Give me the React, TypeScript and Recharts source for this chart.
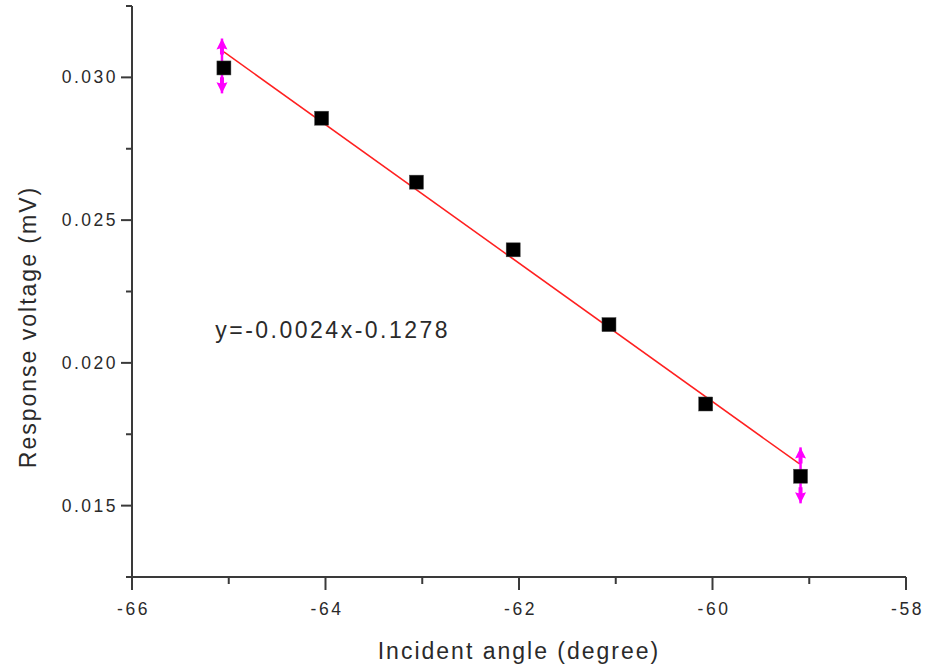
import React from 'react';
import {
  ScatterChart,
  Scatter,
  XAxis,
  YAxis,
  ErrorBar,
  ReferenceDot,
  Label,
} from 'recharts';

const angles = [-65.05, -64.04, -63.06, -62.06, -61.07, -60.07, -59.09];
const voltages = [0.03033, 0.02857, 0.02633, 0.02396, 0.02134, 0.01856, 0.01603];

// error bars on first and last point
const errAngles = [-65.07, -59.09];
const errCenters = [0.0304, 0.01606];
const errSizes = [0.00096, 0.00098];

// linear fit end points
const fitAngles = [-65.05, -59.1];
const fitVoltages = [0.03089, 0.01646];

const xTicks = [-66, -65, -64, -63, -62, -61, -60, -59, -58];
const yTicks = [0.0125, 0.015, 0.0175, 0.02, 0.0225, 0.025, 0.0275, 0.03, 0.0325];

const FONT = '"Liberation Sans", Arial, sans-serif';
const AXIS = '#3a3a3a';
const TEXT = '#2a2a2a';

const points = angles.map((x, i) => ({ x, y: voltages[i] }));
const errData = errAngles.map((x, i) => ({ x, y: errCenters[i], err: errSizes[i] }));
const arrowData = errAngles.flatMap((x, i) => [
  { x, y: errCenters[i] + errSizes[i], dir: 'up' },
  { x, y: errCenters[i] - errSizes[i], dir: 'down' },
]);
const fitData = fitAngles.map((x, i) => ({ x, y: fitVoltages[i] }));

const XTick = ({ x, y, payload }: any) => {
  const major = Math.abs(payload.value) % 2 === 0;
  return (
    <g>
      <line x1={x} y1={y} x2={x} y2={y + (major ? 13 : 7)} stroke={AXIS} strokeWidth={2} />
      {major && (
        <text x={x + 1.5} y={y + 38} textAnchor="middle" fontSize={17.5} letterSpacing={2.5} fill={TEXT} fontFamily={FONT}>
          {payload.value}
        </text>
      )}
    </g>
  );
};

const YTick = ({ x, y, payload }: any) => {
  const v = payload.value * 200;
  const major = Math.abs(v - Math.round(v)) < 1e-6;
  return (
    <g>
      <line x1={x} y1={y} x2={x - (major ? 11 : 6)} y2={y} stroke={AXIS} strokeWidth={2} />
      {major && (
        <text x={x - 14} y={y + 6} textAnchor="end" fontSize={17.5} letterSpacing={2.5} fill={TEXT} fontFamily={FONT}>
          {payload.value.toFixed(3)}
        </text>
      )}
    </g>
  );
};

const Square = ({ cx, cy }: any) => (
  <rect x={cx - 7} y={cy - 7} width={14} height={14} fill="#000" stroke="#444" strokeWidth={0.5} />
);

const Arrow = ({ cx, cy, payload }: any) => {
  const s = payload.dir === 'up' ? 1 : -1;
  return (
    <polygon
      points={`${cx},${cy} ${cx + 5.5},${cy + s * 11} ${cx + 2},${cy + s * 10} ${cx + 2},${cy + s * 16} ${cx - 2},${cy + s * 16} ${cx - 2},${cy + s * 10} ${cx - 5.5},${cy + s * 11}`}
      fill="#ff00ff"
    />
  );
};

export default function App() {
  return (
    <div style={{ position: 'absolute', left: 0, top: 0, background: '#fff' }}>
      <ScatterChart width={925} height={672} margin={{ top: 6, right: 19, bottom: 0, left: 0 }}>
        <XAxis
          type="number"
          dataKey="x"
          domain={[-66, -58]}
          ticks={xTicks}
          allowDataOverflow
          height={95}
          tickSize={0}
          tickMargin={0}
          tickLine={false}
          axisLine={{ stroke: AXIS, strokeWidth: 2 }}
          tick={<XTick />}
          interval={0}
        >
          <Label
            content={() => (
              <text x={519} y={659} textAnchor="middle" fontSize={23} letterSpacing={2} fill={TEXT} fontFamily={FONT}>
                Incident angle (degree)
              </text>
            )}
          />
        </XAxis>
        <XAxis xAxisId="top" orientation="top" type="number" domain={[-66, -58]} height={0} tick={false} tickLine={false} axisLine={{ stroke: AXIS, strokeWidth: 2 }} />
        <YAxis
          type="number"
          dataKey="y"
          domain={[0.0125, 0.0325]}
          ticks={yTicks}
          allowDataOverflow
          width={132}
          tickSize={0}
          tickMargin={0}
          tickLine={false}
          axisLine={{ stroke: AXIS, strokeWidth: 2 }}
          tick={<YTick />}
          interval={0}
        >
          <Label
            content={() => (
              <text transform="translate(36,327) rotate(-90)" textAnchor="middle" fontSize={23} letterSpacing={2} fill={TEXT} fontFamily={FONT}>
                Response voltage (mV)
              </text>
            )}
          />
        </YAxis>
        <YAxis yAxisId="right" orientation="right" type="number" domain={[0.0125, 0.0325]} width={0} tick={false} tickLine={false} axisLine={{ stroke: AXIS, strokeWidth: 2 }} />

        <Scatter data={fitData} line={{ stroke: '#ff2020', strokeWidth: 1.5 }} shape={() => <g />} isAnimationActive={false} />
        <Scatter data={points} shape={<Square />} isAnimationActive={false} />
        <Scatter data={errData} shape={() => <g />} isAnimationActive={false}>
          <ErrorBar dataKey="err" direction="y" width={0} stroke="#ff00ff" strokeWidth={2.5} isAnimationActive={false} />
        </Scatter>
        <Scatter data={arrowData} shape={<Arrow />} isAnimationActive={false} />

        <ReferenceDot
          x={-65.14}
          y={0.02087}
          r={0}
          stroke="none"
          fill="none"
          label={{
            content: ({ viewBox }: any) => (
              <text x={viewBox.x} y={viewBox.y} fontSize={23} letterSpacing={2.5} fill={TEXT} fontFamily={FONT}>
                y=-0.0024x-0.1278
              </text>
            ),
          }}
        />
      </ScatterChart>
    </div>
  );
}
